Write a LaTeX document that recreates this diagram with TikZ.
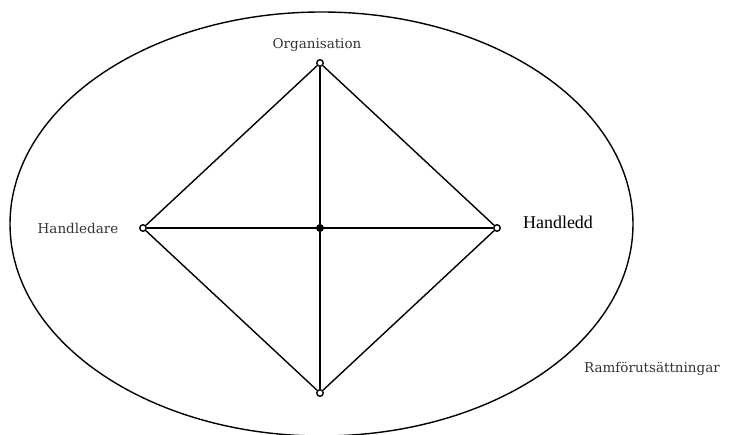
\documentclass[tikz,border=0pt]{standalone}
\usepackage{fontspec}
\setmainfont{Liberation Serif}
\newfontfamily\labfont{DejaVu Serif}
\begin{document}
\begin{tikzpicture}[x=1pt,y=-1pt,
  vertex/.style={circle,draw,fill=white,line width=1.4pt,inner sep=0pt,minimum size=6.5pt},
  hub/.style={circle,fill=black,inner sep=0pt,minimum size=8pt},
  edge/.style={line width=1.4pt},
  lab/.style={font=\labfont\fontsize{13.5}{16}\selectfont,text=black!80,inner sep=0pt}]
\useasboundingbox (0,0) rectangle (734,435);
\begin{scope}
\clip (0,0) rectangle (734,435);
\draw[line width=1.4pt] (321.5,224) ellipse [x radius=311.5, y radius=212];
\end{scope}
\coordinate (ctr) at (320,228);
\node[vertex] (top) at (320,63) {};
\node[vertex] (left) at (143,228) {};
\node[vertex] (right) at (497,228) {};
\node[vertex] (bot) at (320,393) {};
\draw[edge] (top) -- (right) -- (bot) -- (left) -- (top);
\draw[edge] (top) -- (bot);
\draw[edge] (left) -- (right);
\node[hub] (c) at (ctr) {};
\node[lab] (lorg) at (317,45) {Organisation};
\node[lab] (lhl) at (78,228) {Handledare};
\node[font=\fontsize{18}{20}\selectfont,inner sep=0pt] (lhd) at (558,222) {Handledd};
\node[lab] (lram) at (652,369) {Ramförutsättningar};
\end{tikzpicture}
\end{document}
